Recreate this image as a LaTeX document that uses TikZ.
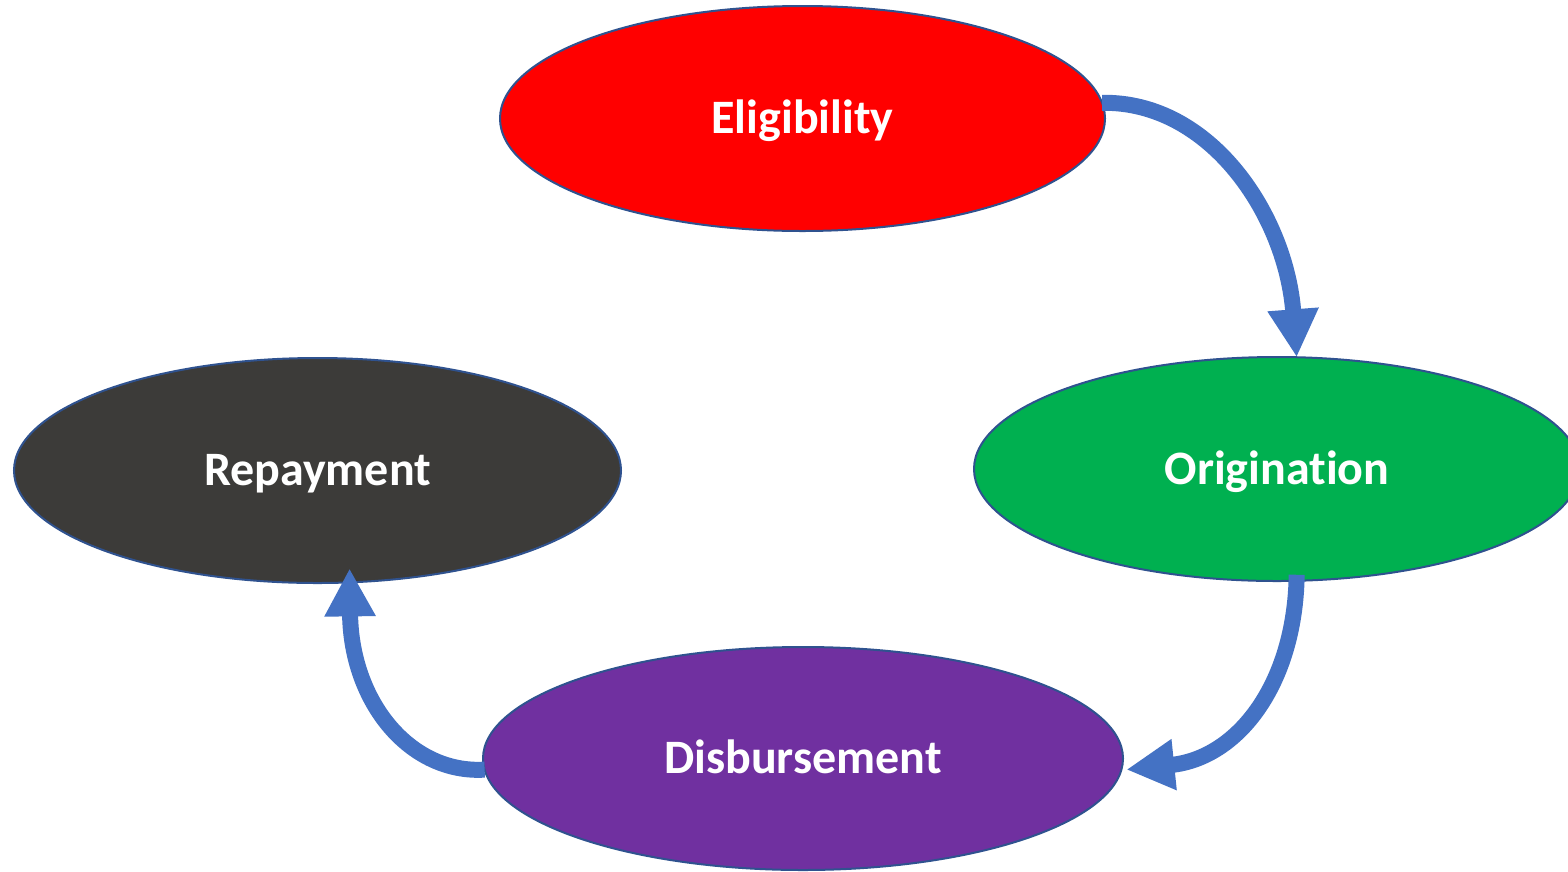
\documentclass[tikz,border=0pt]{standalone}
\usepackage{fontspec}
\setmainfont[Ligatures=NoCommon]{Carlito}
\usetikzlibrary{shapes.geometric,arrows.meta}

\definecolor{stagered}{HTML}{FF0000}
\definecolor{stagegreen}{HTML}{00B050}
\definecolor{stagedark}{HTML}{3C3B39}
\definecolor{stagepurple}{HTML}{7030A0}
\definecolor{stageedge}{HTML}{2F528F}
\definecolor{flowblue}{HTML}{4472C4}

\begin{document}
\begin{tikzpicture}[x=1pt,y=-1pt,
  stage/.style={ellipse, draw=stageedge, line width=2pt, inner sep=0pt, outer sep=0pt,
    text=white, font=\fontsize{48}{48}\selectfont\bfseries,
    text height=30pt, text depth=0pt},
  flow/.style={draw=flowblue, line width=16pt,
    -{Triangle[length=48pt,width=48pt]}}]

  % page area
  \fill[white] (0,0) rectangle (1568,871);
  \useasboundingbox (0,0) rectangle (1568,871);

  % the four stages of the cycle
  \node[stage, fill=stagered,    minimum width=605pt, minimum height=225pt] (elig) at (802.5,118.5) {Eligibility};
  \node[stage, fill=stagegreen,  minimum width=606pt, minimum height=224pt] (orig) at (1277,469) {Origination};
  \node[stage, fill=stagedark,   minimum width=607pt, minimum height=225pt] (rep)  at (317.5,470.5) {Repayment};
  \node[stage, fill=stagepurple, minimum width=640pt, minimum height=223pt] (disb) at (803,758.5) {Disbursement};

  % flow between the stages
  \draw[flow] (elig.3.3) .. controls (1211,101) and (1286,216) .. (orig.80.4);
  \draw[flow] ([yshift=6pt]orig.-80.4) .. controls (1295,684) and (1238,758) .. ([xshift=5pt]disb.-2.55);
  \draw[flow] (disb.182.8) .. controls (410,774) and (351,702) .. ([yshift=14pt]rep.-74.75);
\end{tikzpicture}
\end{document}
